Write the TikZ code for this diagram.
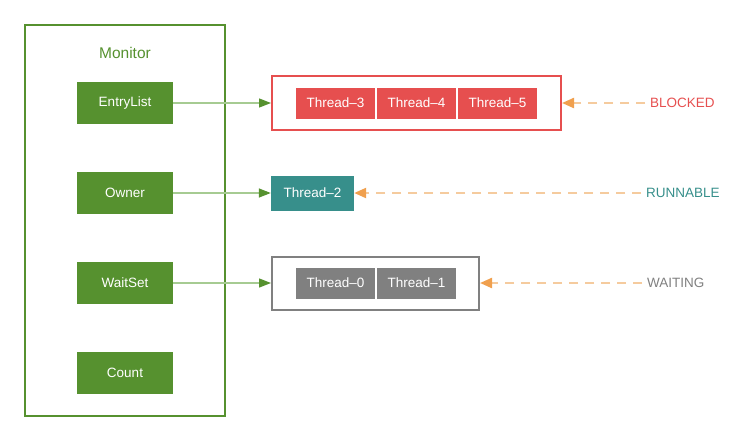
\documentclass[tikz,border=0pt]{standalone}
\usepackage{fontspec}
\setmainfont{Liberation Sans}
\usetikzlibrary{arrows.meta}

\definecolor{mongreen}{HTML}{56912F}
\definecolor{linkgreen}{HTML}{A6CB92}
\definecolor{blockred}{HTML}{E64F4F}
\definecolor{runteal}{HTML}{378F8B}
\definecolor{waitgray}{HTML}{808080}
\definecolor{headorange}{HTML}{F0A04E}
\definecolor{dashorange}{HTML}{F5CB9E}

\begin{document}
\begin{tikzpicture}[x=1pt,y=-1pt,
        font=\fontsize{13.5}{16}\selectfont,
        field/.style={rectangle,fill=mongreen,text=white,minimum width=96pt,minimum height=42pt,inner sep=0pt},
        thread/.style={rectangle,text=white,minimum width=79pt,minimum height=31pt,inner sep=0pt},
        queue/.style={rectangle,draw,line width=2pt,fill=white,inner sep=0pt},
        state/.style={anchor=west,inner sep=5pt},
        link/.style={linkgreen,line width=1.3pt,-{Triangle[length=12pt,width=9pt,color=mongreen]}},
        back/.style={dashorange,line width=2.2pt,dash pattern=on 9pt off 7pt,-{Triangle[length=12pt,width=10pt,color=headorange]}}]
    \useasboundingbox (0,0) rectangle (747,442);

    % Monitor
    \node[draw=mongreen,line width=2pt,minimum width=200pt,minimum height=391pt,inner sep=0pt] (monitor) at (125,220.5) {};
    \node[text=mongreen,font=\fontsize{15.5}{18}\selectfont] (title) at (125,53) {Monitor};
    \node[field] (entry) at (125,103) {EntryList};
    \node[field] (owner) at (125,193) {Owner};
    \node[field] (waitset) at (125,283) {WaitSet};
    \node[field] (count) at (125,373) {Count};

    % Blocked threads
    \node[queue,draw=blockred,minimum width=289pt,minimum height=54pt] (blockq) at (416.5,103) {};
    \node[thread,fill=blockred] (t3) at (335.5,103) {Thread--3};
    \node[thread,fill=blockred] (t4) at (416.5,103) {Thread--4};
    \node[thread,fill=blockred] (t5) at (497.5,103) {Thread--5};

    % Running thread
    \node[thread,fill=runteal,minimum width=83pt,minimum height=35pt] (t2) at (312.5,193) {Thread--2};

    % Waiting threads
    \node[queue,draw=waitgray,minimum width=207pt,minimum height=53pt] (waitq) at (375.5,283) {};
    \node[thread,fill=waitgray] (t0) at (335.5,283) {Thread--0};
    \node[thread,fill=waitgray] (t1) at (416.5,283) {Thread--1};

    % States
    \node[state,text=blockred] (blocked) at (645,103) {BLOCKED};
    \node[state,text=runteal] (runnable) at (641,193) {RUNNABLE};
    \node[state,text=waitgray] (waiting) at (642,283) {WAITING};

    % Edges
    \draw[link] (entry.east) -- (blockq.west);
    \draw[link] (owner.east) -- (t2.west);
    \draw[link] (waitset.east) -- (waitq.west);
    \draw[back] (blocked.west) -- (blockq.east);
    \draw[back] (runnable.west) -- (t2.east);
    \draw[back] (waiting.west) -- (waitq.east);
\end{tikzpicture}
\end{document}
